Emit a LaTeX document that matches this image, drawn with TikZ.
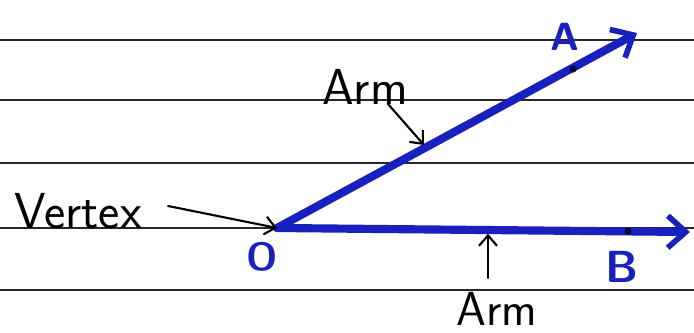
\documentclass[tikz,border=0pt]{standalone}
\usepackage{tikz}
\usetikzlibrary{arrows.meta}
\definecolor{penblue}{RGB}{24,32,190}
\definecolor{ruleline}{RGB}{40,40,40}
\tikzset{
  ruling/.style={line width=0.9pt, draw=ruleline},
  ray/.style={line width=5.8pt, draw=penblue, line cap=round,
    -{Straight Barb[length=4.5mm, width=8mm, line width=4pt]}},
  pointer/.style={line width=1.5pt, draw=black, line cap=round,
    -{Straight Barb[length=2.6mm, width=4.5mm, line width=1.5pt]}},
  marklabel/.style={font=\sffamily\bfseries\fontsize{28}{32}\selectfont, text=penblue, inner sep=0pt},
  armlabel/.style={font=\sffamily\fontsize{36}{40}\selectfont, inner sep=0pt},
  raydot/.style={fill=black!70!penblue, draw=none},
}
\begin{document}
\begin{tikzpicture}
\useasboundingbox (0,0) rectangle (17.35,8.325);
\fill[white] (0,0) rectangle (17.35,8.325);
\draw[ruling] (0,7.325) -- (17.35,7.325);
\draw[ruling] (0,5.825) -- (17.35,5.825);
\draw[ruling] (0,4.250) -- (17.35,4.250);
\draw[ruling] (0,2.625) -- (17.35,2.625);
\draw[ruling] (0,1.075) -- (17.35,1.075);
\coordinate (O) at (6.925,2.625);
\coordinate (A) at (15.925,7.500);
\coordinate (B) at (17.250,2.525);
\coordinate (dotA) at (14.325,6.600);
\coordinate (dotB) at (15.700,2.545);
\coordinate (armA) at (10.600,4.700);
\coordinate (armB) at (12.200,2.480);
\draw[ray] (O) -- (A);
\draw[ray] (O) -- (B);
\fill[raydot] (dotA) circle (0.09);
\fill[raydot] (dotB) circle (0.09);
\node[marklabel] (labA) at (14.125,7.400) {A};
\node[marklabel, font=\sffamily\bfseries\fontsize{32}{36}\selectfont] (labB) at (15.550,1.650) {B};
\node[marklabel] (labO) at (6.550,1.900) {O};
\node[armlabel] (arm1) at (9.125,6.150) {Arm};
\node[armlabel, font=\sffamily\fontsize{34}{38}\selectfont] (arm2) at (12.425,0.600) {Arm};
\node[armlabel] (vert) at (1.950,3.050) {Vertex};
\coordinate (arm1tail) at (9.700,5.725);
\coordinate (arm2tail) at (12.200,1.375);
\coordinate (verttail) at (4.200,3.175);
\draw[pointer] (arm1tail) -- (armA);
\draw[pointer] (arm2tail) -- (armB);
\draw[pointer] (verttail) -- (O);
\end{tikzpicture}
\end{document}
